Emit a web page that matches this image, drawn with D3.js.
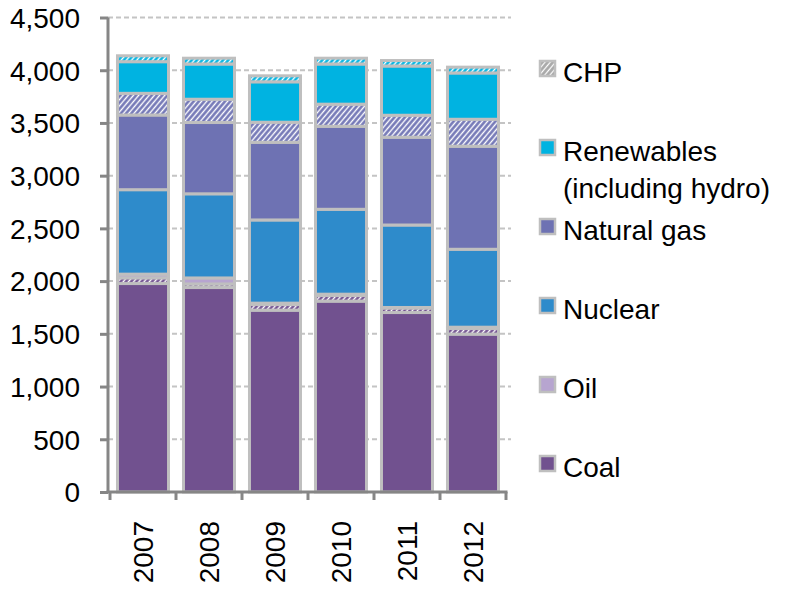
<!DOCTYPE html>
<html>
<head>
<meta charset="utf-8">
<script src="https://cdn.jsdelivr.net/npm/d3@7"></script>
<style>
  html, body { margin: 0; padding: 0; background: #ffffff; }
  svg { display: block; }
  text { font-family: "Liberation Sans", Arial, sans-serif; fill: #000; }
</style>
</head>
<body>
<svg id="chart" width="791" height="596"></svg>
<script>
// ---- data (TWh) ----
const years = ["2007", "2008", "2009", "2010", "2011", "2012"];
const coal          = [1977, 1939, 1724, 1810, 1702, 1497];
const coalCHP       = [54, 34, 54, 54, 43, 54];
const oil           = [35, 57, 13, 12, 5, 12];
const nuclear       = [801, 798, 789, 805, 782, 739];
const gas           = [708, 676, 736, 787, 832, 977];
const gasCHP        = [206, 221, 191, 210, 209, 256];
const renewables    = [300, 334, 383, 381, 467, 439];
const renewablesCHP = [56, 55, 57, 55, 52, 55];
const yTicks = [0, 500, 1000, 1500, 2000, 2500, 3000, 3500, 4000, 4500];
const legendLabels = [["CHP"], ["Renewables", "(including hydro)"], ["Natural gas"], ["Nuclear"], ["Oil"], ["Coal"]];

// ---- styles ----
const colors = {
  coal: "#71518f", oil: "#b7a5d0", nuclear: "#2e8bcb",
  gas: "#6e72b3", renew: "#00b3e1", chp: "#a6a6a6"
};
const edge = "#bfbfbf";

const series = [
  { key: "coal", values: coal, color: colors.coal, hatch: false },
  { key: "coalCHP", values: coalCHP, color: colors.coal, hatch: true },
  { key: "oil", values: oil, color: colors.oil, hatch: false },
  { key: "nuclear", values: nuclear, color: colors.nuclear, hatch: false },
  { key: "gas", values: gas, color: colors.gas, hatch: false },
  { key: "gasCHP", values: gasCHP, color: colors.gas, hatch: true },
  { key: "renew", values: renewables, color: colors.renew, hatch: false },
  { key: "renewCHP", values: renewablesCHP, color: colors.renew, hatch: true }
];

const table = years.map((y, i) => {
  const row = { year: y };
  series.forEach(s => row[s.key] = s.values[i]);
  return row;
});

const svg = d3.select("#chart");
const defs = svg.append("defs");
function hatchPattern(id, col, bg, w) {
  const p = defs.append("pattern")
    .attr("id", id).attr("patternUnits", "userSpaceOnUse")
    .attr("width", 4).attr("height", 4)
    .attr("patternTransform", "rotate(40)");
  p.append("rect").attr("width", 4).attr("height", 4).attr("fill", bg);
  p.append("line").attr("x1", 1.5).attr("y1", 0).attr("x2", 1.5).attr("y2", 4)
    .attr("stroke", col).attr("stroke-width", w);
}
hatchPattern("h-coal", colors.coal, "#ffffff", 2.5);
hatchPattern("h-gas", colors.gas, "#ffffff", 2.5);
hatchPattern("h-renew", colors.renew, "#ffffff", 2.5);
hatchPattern("h-chp", "#ffffff", "#a6a6a6", 1.3);

const x = d3.scaleBand().domain(years).range([110, 506])
  .paddingInner(0.227).paddingOuter(0.1135);
const y = d3.scaleLinear().domain([0, 4500]).range([492, 17.5]);

// gridlines
svg.append("g").selectAll("line")
  .data(yTicks.filter(t => t > 0))
  .join("line")
  .attr("x1", 108).attr("x2", 511)
  .attr("y1", d => y(d)).attr("y2", d => y(d))
  .attr("stroke", "#c4c4c4").attr("stroke-width", 2)
  .attr("stroke-dasharray", "5,3");

// bars
const stack = d3.stack().keys(series.map(s => s.key));
const stacked = stack(table);
const barG = svg.append("g");
stacked.forEach((layer, li) => {
  const s = series[li];
  const fill = s.hatch ? `url(#h-${s.key.replace("CHP", "")})` : s.color;
  barG.append("g").selectAll("rect")
    .data(layer)
    .join("rect")
    .attr("x", d => x(d.data.year))
    .attr("width", x.bandwidth())
    .attr("y", d => y(d[1]))
    .attr("height", d => y(d[0]) - y(d[1]))
    .attr("fill", fill)
    .attr("stroke", edge)
    .attr("stroke-width", 3);
});

// y axis
const yAxis = d3.axisLeft(y).tickValues(yTicks).tickSize(8).tickFormat(d3.format(","));
const yG = svg.append("g").attr("transform", "translate(108,0)").call(yAxis);
yG.select(".domain").attr("stroke", "#868686").attr("stroke-width", 3)
  .attr("d", `M0,${y(4500)}V${y(0)}`);
yG.selectAll(".tick line").attr("stroke", "#868686").attr("stroke-width", 3);
yG.selectAll(".tick text").attr("x", -28).attr("dy", "0.35em")
  .style("font-size", "28px").style("font-family", "Liberation Sans, Arial, sans-serif").attr("fill", "#000");

// x axis
const xG = svg.append("g").attr("transform", `translate(0,${y(0)})`);
xG.append("line").attr("x1", 106.5).attr("x2", 507.5).attr("y1", 0).attr("y2", 0)
  .attr("stroke", "#868686").attr("stroke-width", 3);
const edges = years.map(d => x(d) - x.step() * x.paddingInner() / 2)
  .concat([x(years[years.length - 1]) + x.bandwidth() + x.step() * x.paddingInner() / 2]);
xG.selectAll("line.tk").data(edges).join("line").attr("class", "tk")
  .attr("x1", d => d).attr("x2", d => d).attr("y1", 0).attr("y2", 8)
  .attr("stroke", "#868686").attr("stroke-width", 3);
xG.selectAll("text").data(years).join("text")
  .attr("transform", d => `translate(${x(d) + x.bandwidth() / 2 + 10},29) rotate(-90)`)
  .attr("text-anchor", "end")
  .style("font-size", "28px")
  .text(d => d);

// legend
const legendColors = [
  "url(#h-chp)", colors.renew, colors.gas, colors.nuclear, colors.oil, colors.coal
];
const legendY = [72, 151, 230, 309, 388, 467];
const lg = svg.append("g");
legendLabels.forEach((lines, i) => {
  const cy = legendY[i];
  lg.append("rect")
    .attr("x", 540).attr("y", cy - 11).attr("width", 15).attr("height", 15)
    .attr("fill", legendColors[i]).attr("stroke", edge).attr("stroke-width", 2.5);
  const t = lg.append("text").attr("x", 563).attr("y", cy + 10).style("font-size", "28px");
  lines.forEach((ln, j) => {
    t.append("tspan").attr("x", 563).attr("dy", j === 0 ? 0 : 37).text(ln);
  });
});
</script>
</body>
</html>
